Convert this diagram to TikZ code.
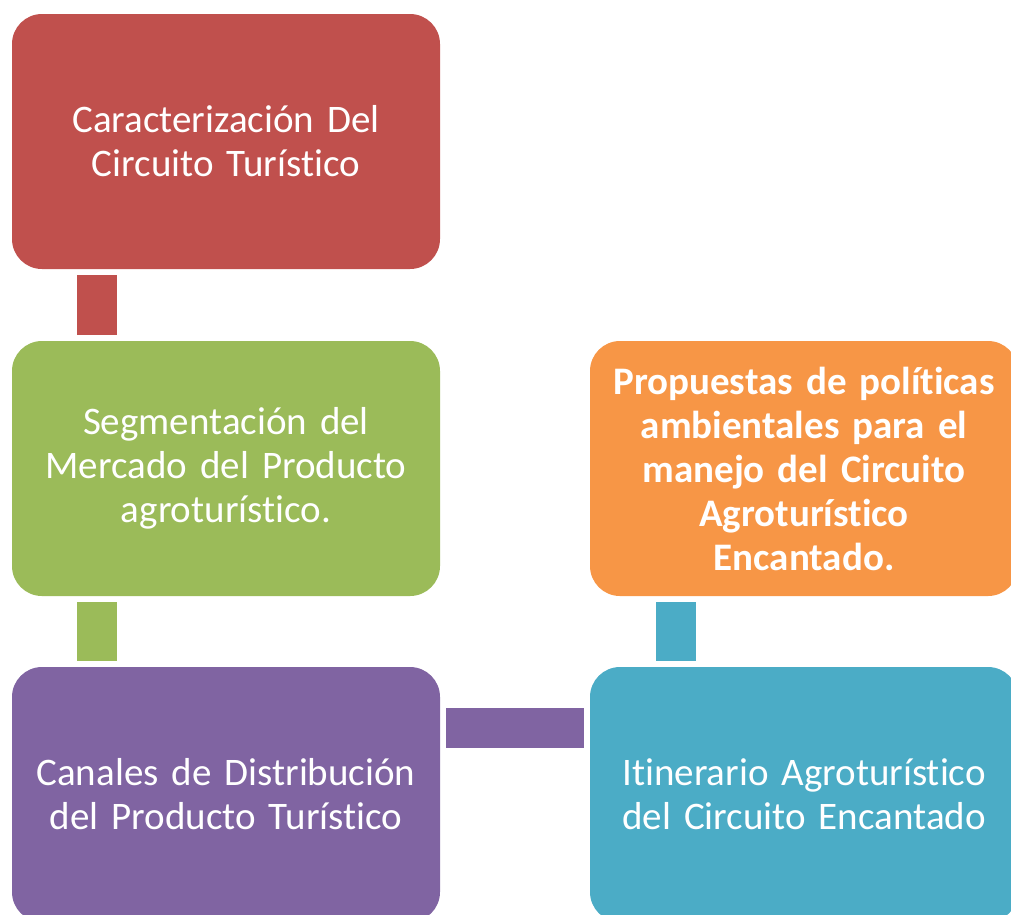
\documentclass[tikz,border=0pt]{standalone}
\usepackage{fontspec}
\setmainfont{Carlito}[RawFeature=-liga]
\usetikzlibrary{positioning}
\definecolor{cred}{HTML}{C0504D}
\definecolor{cgreen}{HTML}{9BBB59}
\definecolor{cpurple}{HTML}{8064A2}
\definecolor{corange}{HTML}{F79646}
\definecolor{cteal}{HTML}{4BACC6}
\tikzset{
    stagebox/.style={rectangle, rounded corners=30pt, minimum width=428pt, minimum height=255pt, text width=420pt, align=center, text=white, font=\fontsize{39}{44}\selectfont, inner sep=0pt},
    linkbar/.style={line width=40pt},
}
\begin{document}
\begin{tikzpicture}[x=1pt, y=-1pt]
    \useasboundingbox (0,0) rectangle (1011,914);
    \clip (0,0) rectangle (1011,914);
    % Left column
    \node[stagebox, fill=cred] (carac) at (226, 141.5) {Caracterización Del\\Circuito Turístico};
    \node[stagebox, fill=cgreen] (segm) at (226, 468.5) {Segmentación del\\Mercado del Producto\\agroturístico.};
    \node[stagebox, fill=cpurple] (canal) at (226, 794.5) {Canales de Distribución\\del Producto Turístico};

    % Right column
    \node[stagebox, fill=cteal] (itin) at (804, 794.5) {Itinerario Agroturístico\\del Circuito Encantado};
    \node[stagebox, fill=corange, font=\fontsize{39}{44}\selectfont\bfseries] (prop) at (804, 468.5) {Propuestas de políticas\\ambientales para el\\manejo del Circuito\\Agroturístico\\Encantado.};

    % Connectors
    \draw[linkbar, cred] ([xshift=85pt, yshift=-6pt]carac.south west) -- ([xshift=85pt, yshift=6pt]segm.north west);
    \draw[linkbar, cgreen] ([xshift=85pt, yshift=-6pt]segm.south west) -- ([xshift=85pt, yshift=6pt]canal.north west);
    \draw[linkbar, cpurple] ([xshift=6pt, yshift=-61pt]canal.north east) -- ([xshift=-6pt, yshift=-61pt]itin.north west);
    \draw[linkbar, cteal] ([xshift=86pt, yshift=6pt]itin.north west) -- ([xshift=86pt, yshift=-6pt]prop.south west);
\end{tikzpicture}
\end{document}
